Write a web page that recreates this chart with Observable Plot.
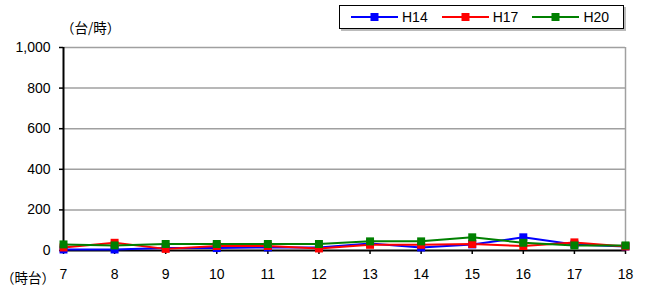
<!DOCTYPE html>
<html><head><meta charset="utf-8">
<script src="https://cdn.jsdelivr.net/npm/d3@7"></script>
<script src="https://cdn.jsdelivr.net/npm/@observablehq/plot@0.6"></script>
<style>
body{margin:0;background:#fff;font-family:"Noto Sans CJK JP","Liberation Sans",sans-serif;}
#wrap{position:relative;width:646px;height:287px;}
.lbl{position:absolute;font-size:13.5px;color:#000;white-space:nowrap;}
#legend{position:absolute;left:339px;top:5px;width:285px;height:24px;border:1.5px solid #000;box-shadow:2px 2px 0 #bbb;box-sizing:border-box;display:flex;align-items:center;font-family:"Liberation Sans",Arial,sans-serif;font-size:14px;}
.item{display:flex;align-items:center;margin-left:11px;}
.item span{margin-left:4px;margin-right:3px;}
</style></head>
<body>
<div id="wrap"></div>
<script>
const hours = [7,8,9,10,11,12,13,14,15,16,17,18];
const seriesNames = ["H14","H17","H20"];
const colors = ["#0000ff","#ff0000","#008000"];
const h14 = [5,5,12,12,15,15,35,15,30,65,30,20];
const h17 = [15,38,8,22,22,10,28,28,32,22,40,20];
const h20 = [30,25,32,32,32,32,45,45,65,38,25,25];
const yTicks = [0,200,400,600,800,1000];

const values = [h14,h17,h20];
const data = [];
seriesNames.forEach((s,i)=>hours.forEach((h,j)=>data.push({series:s,hour:h,value:values[i][j]})));

const chart = Plot.plot({
  width:646, height:287,
  marginLeft:63, marginRight:21, marginTop:47, marginBottom:37,
  style:{fontFamily:"'Liberation Sans',Arial,sans-serif",fontSize:"14px",color:"#000",background:"#fff"},
  x:{domain:[7,18], label:null},
  y:{domain:[0,1000], label:null},
  color:{domain:seriesNames, range:colors},
  marks:[
    Plot.gridY(yTicks.filter(d=>d>0),{stroke:"#a0a0a0",strokeOpacity:1,strokeWidth:1.5}),
    Plot.ruleX([18],{stroke:"#a0a0a0",strokeWidth:1.5}),
    Plot.axisX({ticks:hours,tickFormat:d=>String(d),tickSize:4,tickPadding:15,stroke:"#000",strokeWidth:1.5}),
    Plot.axisY({ticks:yTicks,tickFormat:d3.format(","),tickSize:4,tickPadding:9,stroke:"#000",strokeWidth:1.5}),
    Plot.ruleY([0],{stroke:"#000",strokeWidth:2}),
    Plot.ruleX([7],{stroke:"#000",strokeWidth:2}),
    Plot.lineY(data,{x:"hour",y:"value",stroke:"series",z:"series",strokeWidth:2}),
    Plot.dot(data,{x:"hour",y:"value",fill:"series",symbol:"square",r:4.5})
  ]
});
const wrap = document.getElementById("wrap");
wrap.appendChild(chart);

const u1 = document.createElement("div");u1.className="lbl";u1.style.left="61px";u1.style.top="17px";u1.textContent="（台/時）";wrap.appendChild(u1);
const u2 = document.createElement("div");u2.className="lbl";u2.style.left="1px";u2.style.top="267px";u2.textContent="（時台）";wrap.appendChild(u2);

const lg = document.createElement("div");lg.id="legend";
seriesNames.forEach((s,i)=>{
  const it=document.createElement("div");it.className="item";
  it.innerHTML=`<svg width="47" height="10"><line x1="0" y1="5" x2="47" y2="5" stroke="${colors[i]}" stroke-width="2"/><rect x="19.5" y="1" width="8" height="8" fill="${colors[i]}"/></svg><span>${s}</span>`;
  lg.appendChild(it);
});
wrap.appendChild(lg);
</script>
</body></html>
